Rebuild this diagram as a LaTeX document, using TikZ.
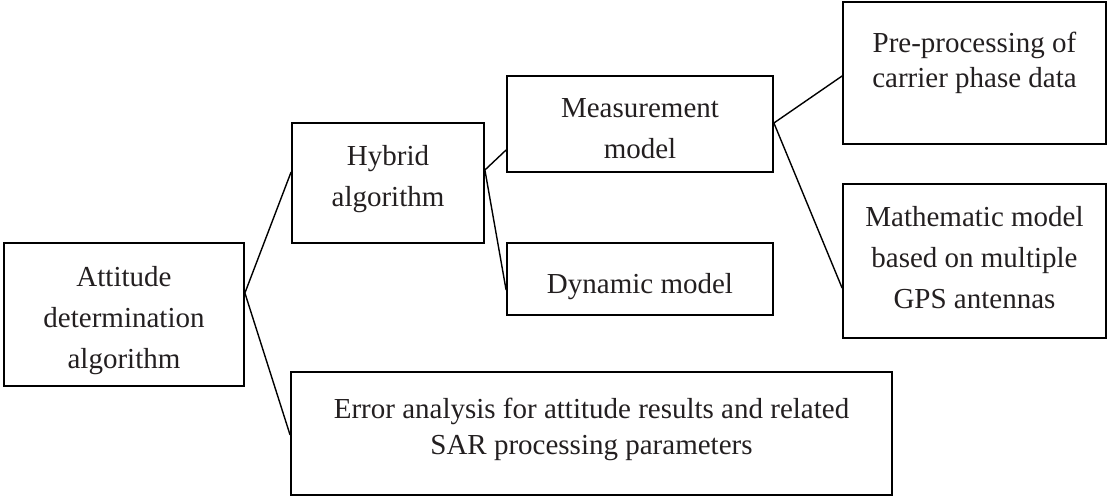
\documentclass[tikz,border=0pt]{standalone}
\usepackage{fontspec}
\setmainfont{Liberation Serif}
\usetikzlibrary{calc}
\definecolor{ink}{RGB}{35,31,32}
\begin{document}
\begin{tikzpicture}[x=1pt,y=-1pt,
  box/.style={draw=black,line width=1.8pt,inner sep=0pt,minimum width=#1},
  txt/.style={text=ink,align=center,inner sep=0pt,font=\fontsize{29}{41}\selectfont},
  link/.style={draw=black,line width=1.4pt}]
\useasboundingbox (0,0) rectangle (1108,497);

% boxes
\node[box=240,minimum height=143] (att)  at (124,314.5) {};
\node[box=192,minimum height=120] (hyb)  at (388,183)   {};
\node[box=266,minimum height=96]  (meas) at (640,124)   {};
\node[box=266,minimum height=72]  (dyn)  at (640,279)   {};
\node[box=263,minimum height=142] (pre)  at (974.5,73)  {};
\node[box=263,minimum height=154] (math) at (974.5,261) {};
\node[box=601,minimum height=123] (err)  at (591.5,433.5) {};

% labels
\node[txt] (att-t)  at (124,318.8) {\strut Attitude\\\strut determination\\\strut algorithm};
\node[txt] (hyb-t)  at (388,178.3) {\strut Hybrid\\\strut algorithm};
\node[txt] (meas-t) at (640,130.3) {\strut Measurement\\\strut model};
\node[txt] (dyn-t)  at (640,285.5) {\strut Dynamic model};
\node[txt,font=\fontsize{29}{35}\selectfont] (pre-t) at (974.5,63.5)
  {\strut Pre-processing of\\\strut carrier phase data};
\node[txt] (math-t) at (974.5,258.8)
  {\strut Mathematic model\\\strut based on multiple\\\strut GPS antennas};
\node[txt,font=\fontsize{29}{36}\selectfont] (err-t) at (591.5,429)
  {\strut Error analysis for attitude results and related\\\strut SAR processing parameters};

% connectors
\draw[link] ([yshift=21.5pt]att.east) -- ([yshift=11pt]hyb.west);
\draw[link] ([yshift=21.5pt]att.east) -- ([yshift=-1.5pt]err.west);
\draw[link] ([yshift=13pt]hyb.east) -- ([yshift=-26pt]meas.west);
\draw[link] ([yshift=13pt]hyb.east) -- ([yshift=-11pt]dyn.west);
\draw[link] ([yshift=1pt]meas.east) -- ([yshift=-3pt]pre.west);
\draw[link] ([yshift=1pt]meas.east) -- ([yshift=-27pt]math.west);
\end{tikzpicture}
\end{document}
